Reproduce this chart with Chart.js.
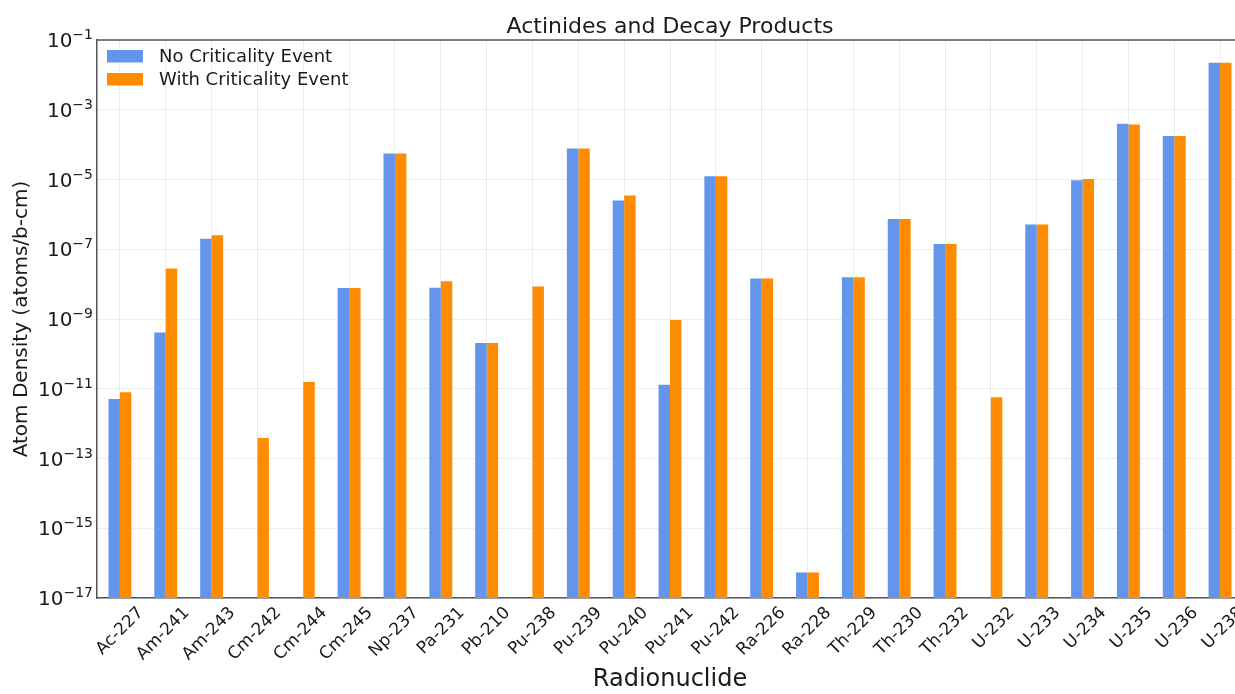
<!DOCTYPE html>
<html>
<head>
<meta charset="utf-8">
<title>Actinides and Decay Products</title>
<script src="https://cdn.jsdelivr.net/npm/chart.js@4/dist/chart.umd.min.js"></script>
<style>
  html, body { margin: 0; padding: 0; background: #fff; overflow: hidden; }
  .wrap { width: 1235px; height: 694px; overflow: hidden; position: relative; }
  canvas { display: block; }
</style>
</head>
<body>
<div class="wrap">
  <canvas id="decayChart" width="1250" height="694"></canvas>
</div>
<script>
/* 악티나이드 및 붕괴생성물 원자밀도 비교 (로그 스케일 막대) */

const nuclides = [
  'Ac-227', 'Am-241', 'Am-243', 'Cm-242', 'Cm-244', 'Cm-245', 'Np-237',
  'Pa-231', 'Pb-210', 'Pu-238', 'Pu-239', 'Pu-240', 'Pu-241', 'Pu-242',
  'Ra-226', 'Ra-228', 'Th-229', 'Th-230', 'Th-232', 'U-232', 'U-233',
  'U-234', 'U-235', 'U-236', 'U-238'
];

// atoms/b-cm, null = 값 없음
const noCriticality = [
  5.1e-12, 4.1e-10, 2.0e-7, null, null, 7.7e-9, 5.6e-5,
  7.9e-9, 2.05e-10, null, 7.7e-5, 2.5e-6, 1.3e-11, 1.23e-5,
  1.46e-8, 5.4e-17, 1.57e-8, 7.4e-7, 1.42e-7, null, 5.1e-7,
  9.5e-6, 4.0e-4, 1.77e-4, 2.24e-2
];

const withCriticality = [
  7.9e-12, 2.8e-8, 2.5e-7, 3.9e-13, 1.56e-11, 7.7e-9, 5.6e-5,
  1.2e-8, 2.05e-10, 8.6e-9, 7.7e-5, 3.5e-6, 9.4e-10, 1.23e-5,
  1.46e-8, 5.4e-17, 1.57e-8, 7.4e-7, 1.42e-7, 5.7e-12, 5.1e-7,
  1.03e-5, 3.8e-4, 1.77e-4, 2.24e-2
];

const yTicks = [1e-17, 1e-15, 1e-13, 1e-11, 1e-9, 1e-7, 1e-5, 1e-3, 1e-1];

(function () {
  'use strict';

  const FONT = "'DejaVu Sans', sans-serif";
  const TEXT = '#1a1a1a';
  const SPINE = '#555';
  const BLUE = '#6495ED';
  const ORANGE = '#FF8C00';

  /* ── 제목, 범례, 위쪽 테두리, y축 10^n 라벨 ── */
  const decorations = {
    id: 'decorations',
    afterDatasetsDraw(chart) {
      const ctx = chart.ctx;
      const area = chart.chartArea;
      const yScale = chart.scales.y;
      ctx.save();

      // top spine
      ctx.strokeStyle = SPINE;
      ctx.lineWidth = 1.5;
      ctx.beginPath();
      ctx.moveTo(area.left, area.top);
      ctx.lineTo(area.right, area.top);
      ctx.stroke();

      // title
      ctx.fillStyle = TEXT;
      ctx.font = '22px ' + FONT;
      ctx.textAlign = 'center';
      ctx.textBaseline = 'alphabetic';
      ctx.fillText('Actinides and Decay Products', (area.left + area.right) / 2, 33);

      // y tick labels: "10" + 위첨자 지수
      ctx.textAlign = 'left';
      yTicks.forEach(v => {
        const py = yScale.getPixelForValue(v);
        const exp = '\u2212' + String(-Math.round(Math.log10(v)));
        ctx.font = '14px ' + FONT;
        const ew = ctx.measureText(exp).width;
        ctx.font = '20px ' + FONT;
        const bw = ctx.measureText('10').width;
        const right = area.left - 4;
        const x0 = right - ew - bw;
        ctx.fillText('10', x0, py + 7);
        ctx.font = '14px ' + FONT;
        ctx.fillText(exp, x0 + bw, py - 1);
      });

      // legend
      ctx.font = '18px ' + FONT;
      ctx.textBaseline = 'middle';
      chart.data.datasets.forEach((ds, i) => {
        const y = area.top + 16 + i * 23;
        ctx.fillStyle = ds.backgroundColor;
        ctx.fillRect(area.left + 10, y - 6, 36, 12.5);
        ctx.fillStyle = TEXT;
        ctx.fillText(ds.label, area.left + 62, y + 1);
      });

      ctx.restore();
    }
  };

  function renderChart() {
    const canvas = document.getElementById('decayChart');
    if (!canvas) return;

    new Chart(canvas, {
      type: 'bar',
      data: {
        labels: nuclides,
        datasets: [
          {
            label: 'No Criticality Event',
            data: noCriticality,
            backgroundColor: BLUE,
            borderWidth: 0
          },
          {
            label: 'With Criticality Event',
            data: withCriticality,
            backgroundColor: ORANGE,
            borderWidth: 0
          }
        ]
      },
      options: {
        responsive: false,
        animation: false,
        categoryPercentage: 0.5,
        barPercentage: 1.0,
        layout: { padding: { top: 40, right: 7, left: 0, bottom: 0 } },
        plugins: {
          legend: { display: false },
          title: { display: false },
          tooltip: { enabled: false }
        },
        scales: {
          x: {
            afterFit: s => { s.height = 96; },
            grid: { offset: false, color: 'rgba(0,0,0,0.07)', drawTicks: false },
            border: { color: SPINE, width: 1.5 },
            ticks: {
              color: TEXT,
              font: { family: FONT, size: 17 },
              maxRotation: 45,
              minRotation: 45,
              autoSkip: false,
              padding: 5,
              labelOffset: 21
            },
            title: {
              display: true,
              text: 'Radionuclide',
              color: TEXT,
              font: { family: FONT, size: 24 },
              padding: { top: 0, bottom: 0 }
            }
          },
          y: {
            type: 'logarithmic',
            min: 1e-17,
            max: 1e-1,
            afterFit: s => { s.width = 97; },
            afterBuildTicks: s => { s.ticks = yTicks.map(v => ({ value: v })); },
            grid: { color: 'rgba(0,0,0,0.07)', drawTicks: false },
            border: { color: SPINE, width: 1.5 },
            ticks: { display: false },
            title: {
              display: true,
              text: 'Atom Density (atoms/b-cm)',
              color: TEXT,
              font: { family: FONT, size: 20 },
              padding: { top: 10, bottom: 0 }
            }
          }
        }
      },
      plugins: [decorations]
    });
  }

  document.addEventListener('DOMContentLoaded', renderChart);
})();
</script>
</body>
</html>
